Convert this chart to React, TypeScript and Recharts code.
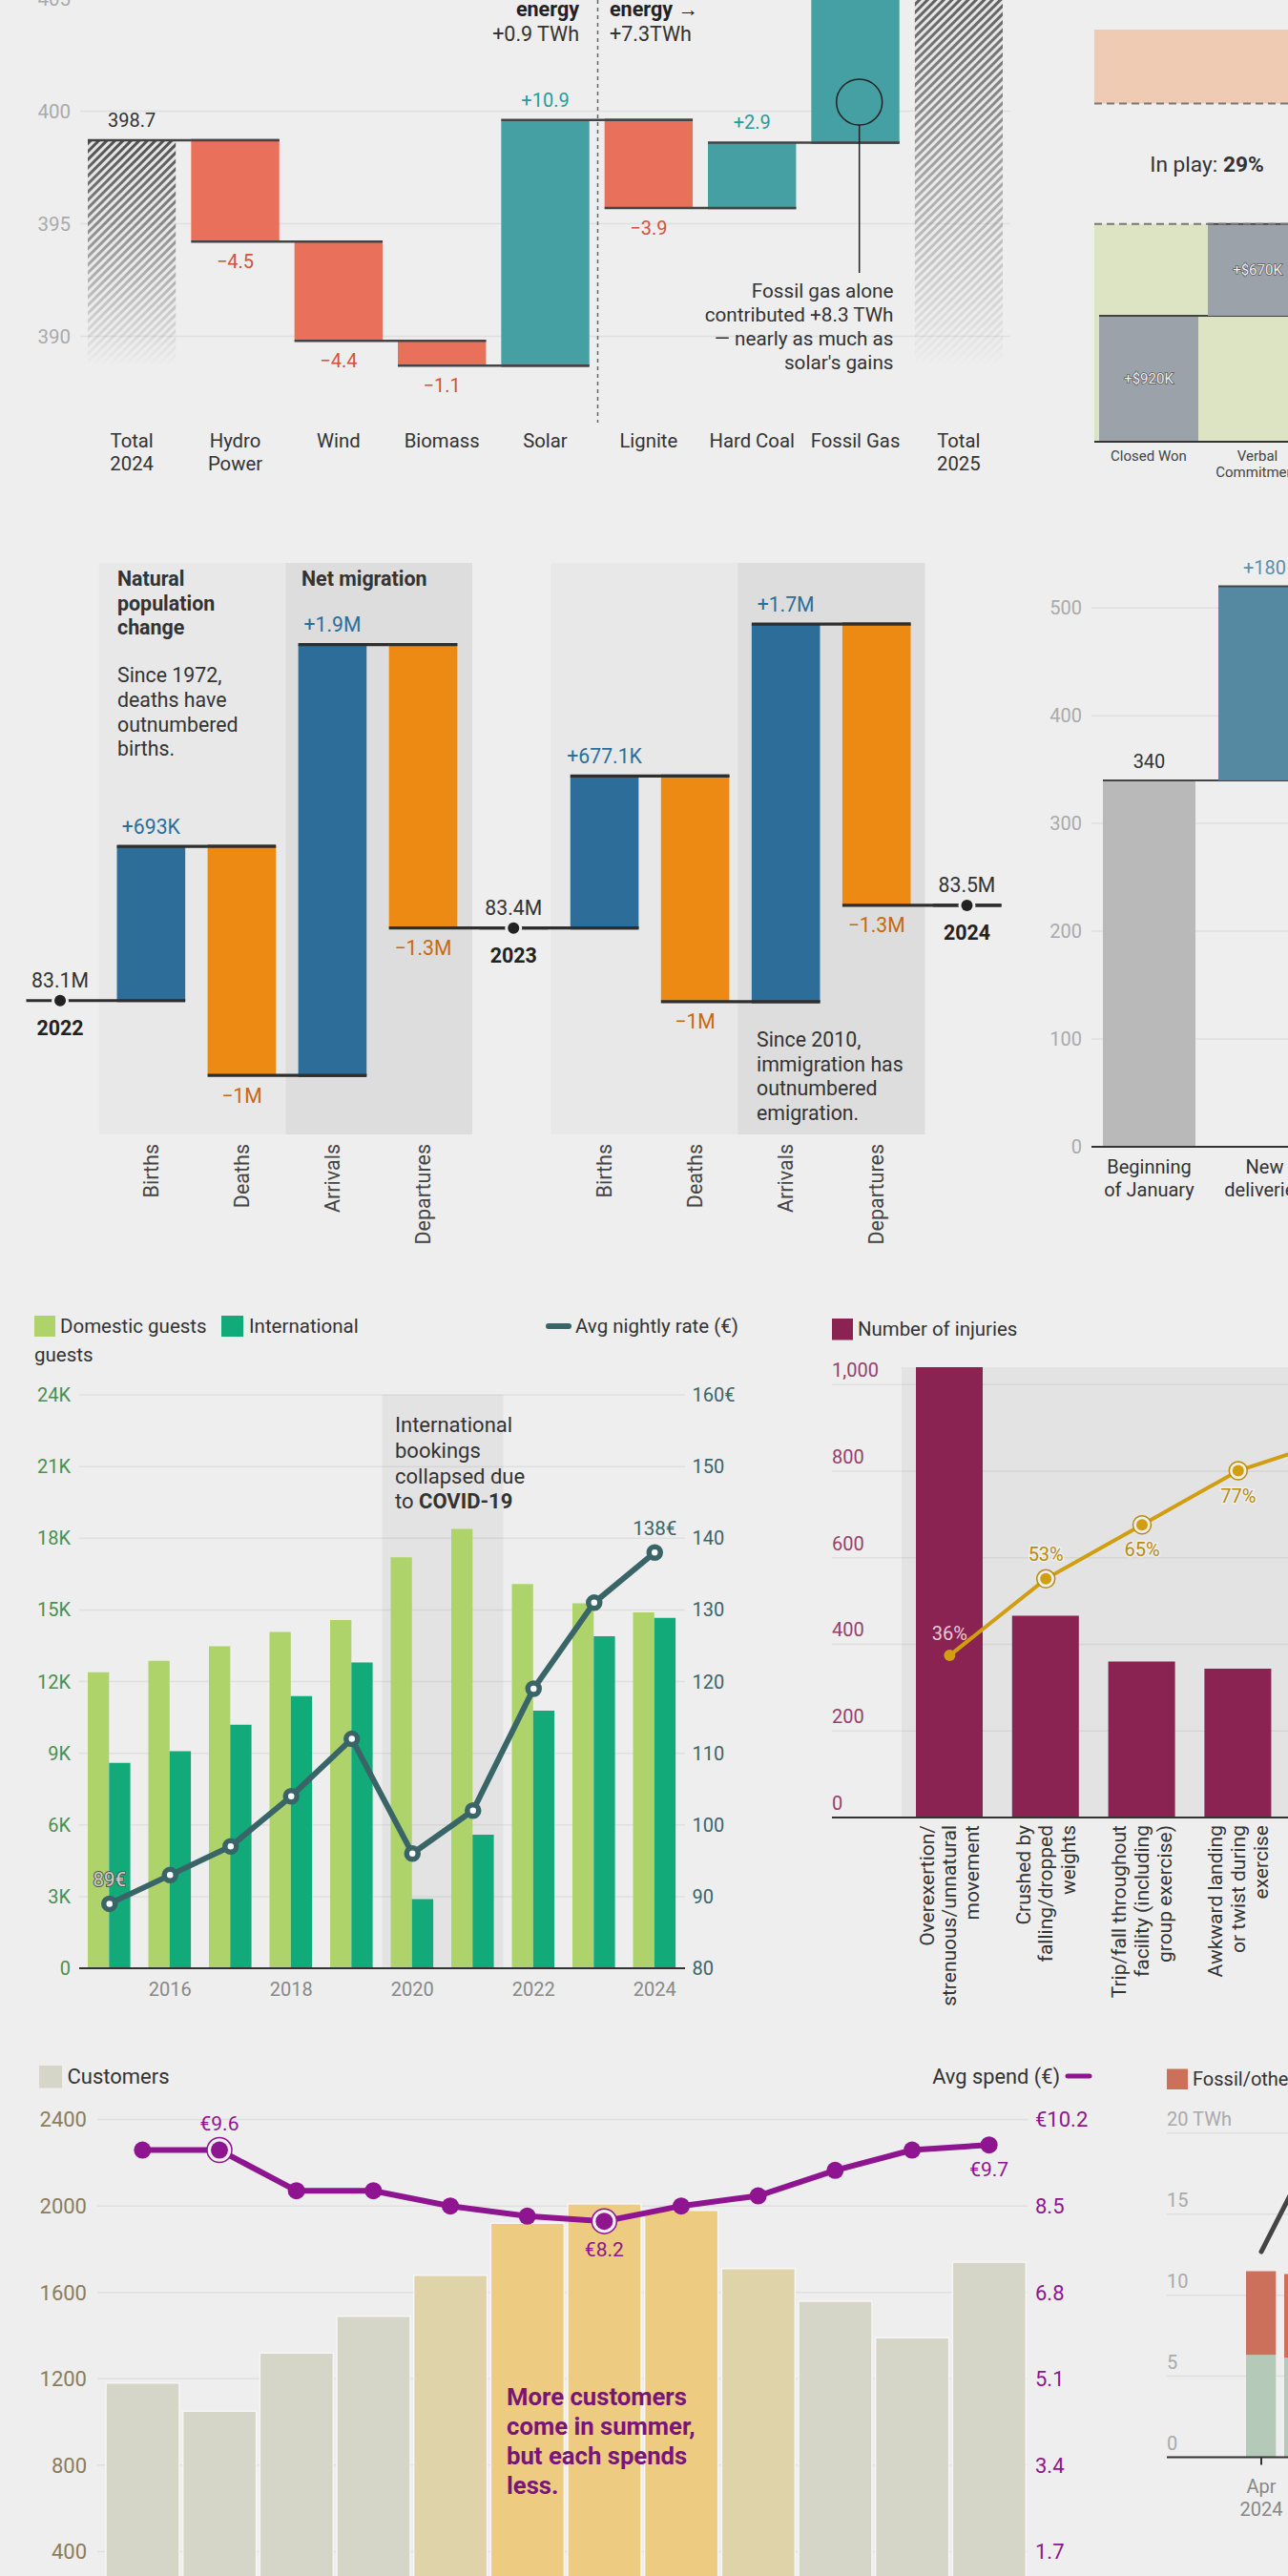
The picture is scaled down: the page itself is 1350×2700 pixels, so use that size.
import React from 'react';
import { ComposedChart, Bar, Line, XAxis, YAxis, CartesianGrid, ReferenceArea, ReferenceLine, Cell } from 'recharts';

const FONT = 'Roboto, sans-serif';
const BG = '#eeeeee';
const GRID = '#dfdfdf';
const AXIS = '#333333';

/* ---------- data: energy waterfall ---------- */
const energyCats = ['Total\n2024', 'Hydro\nPower', 'Wind', 'Biomass', 'Solar', 'Lignite', 'Hard Coal', 'Fossil Gas', 'Total\n2025'];
const energyLevels = [398.7, 394.2, 389.8, 388.7, 399.6, 395.7, 398.6, 406.9, 406.9];
const energyKinds = ['total', 'down', 'down', 'down', 'up', 'down', 'up', 'up', 'total'];
const energyLabels = ['398.7', '−4.5', '−4.4', '−1.1', '+10.9', '−3.9', '+2.9', '', ''];
const energyFloor = 388.7;
const energyTicks = [390, 395, 400, 405, 410];

/* ---------- data: sales pipeline ---------- */
const salesCats = ['Closed Won', 'Verbal\nCommitment'];
const salesLevels = [920, 1590];
const salesKinds = ['up', 'up'];
const salesLabels = ['+$920K', '+$670K'];
const salesWon = 1590;
const salesInPlayTop = 2470;
const salesTotal = 3010;

/* ---------- data: population ---------- */
const popCats = ['2022', 'Births', 'Deaths', 'Arrivals', 'Departures', '2023', 'Births', 'Deaths', 'Arrivals', 'Departures', '2024'];
const popLevels = [83.1, 83.78, 82.77, 84.67, 83.42, 83.42, 84.09, 83.095, 84.76, 83.52, 83.52];
const popKinds = ['point', 'up', 'down', 'up', 'down', 'point', 'up', 'down', 'up', 'down', 'point'];
const popLabels = ['83.1M', '+693K', '−1M', '+1.9M', '−1.3M', '83.4M', '+677.1K', '−1M', '+1.7M', '−1.3M', '83.5M'];
const popSpans = [1, 1, 1, 1, 1, 1, 1, 1, 1, 1, 0];

/* ---------- data: fleet ---------- */
const fleetCats = ['Beginning\nof January', 'New\ndeliveries'];
const fleetLevels = [340, 520];
const fleetKinds = ['total', 'up'];
const fleetLabels = ['340', '+180'];
const fleetTicks = [0, 100, 200, 300, 400, 500];

/* ---------- data: hotel ---------- */
const hotelYears = ['2015', '2016', '2017', '2018', '2019', '2020', '2021', '2022', '2023', '2024'];
const hotelYearTicks = ['2016', '2018', '2020', '2022', '2024'];
const hotelDomestic = [12.39, 12.87, 13.48, 14.08, 14.58, 17.2, 18.39, 16.08, 15.27, 14.9];
const hotelInternational = [8.6, 9.08, 10.19, 11.39, 12.8, 2.9, 5.59, 10.78, 13.9, 14.67];
const hotelRate = [89, 93, 97, 104, 112, 96, 102, 119, 131, 138];
const hotelRateLabels = ['89€', '', '', '', '', '', '', '', '', '138€'];
const hotelLeftTicks = [0, 3, 6, 9, 12, 15, 18, 21, 24];
const hotelRightTicks = [80, 90, 100, 110, 120, 130, 140, 150, 160];

/* ---------- data: injuries ---------- */
const injuryCats = [
  'Overexertion/\nstrenuous/unnatural\nmovement',
  'Crushed by\nfalling/dropped\nweights',
  'Trip/fall throughout\nfacility (including\ngroup exercise)',
  'Awkward landing\nor twist during\nexercise',
  'Other',
];
const injuryCounts = [1100, 466, 360, 344, 250];
const injuryCumulative = [36, 53, 65, 77, 84];
const injuryLabels = ['36%', '53%', '65%', '77%', '84%'];
const injuryLabelAbove = [true, true, false, false, false];
const injuryTicks = [0, 200, 400, 600, 800, 1000];

/* ---------- data: customers ---------- */
const monthKeys = ['Jan', 'Feb', 'Mar', 'Apr', 'May', 'Jun', 'Jul', 'Aug', 'Sep', 'Oct', 'Nov', 'Dec'];
const customerCounts = [1180, 1050, 1320, 1490, 1679, 1920, 2010, 1980, 1710, 1559, 1390, 1740];
const customerSeason = ['off', 'off', 'off', 'off', 'shoulder', 'peak', 'peak', 'peak', 'shoulder', 'off', 'off', 'off'];
const spendValues = [9.6, 9.6, 8.8, 8.8, 8.5, 8.3, 8.2, 8.5, 8.7, 9.2, 9.6, 9.7];
const spendLabels = ['', '€9.6', '', '', '', '', '€8.2', '', '', '', '', '€9.7'];
const spendRinged = [false, true, false, false, false, false, true, false, false, false, false, false];
const spendLabelAbove = [false, true, false, false, false, false, false, false, false, false, false, false];
const customerTicks = [0, 400, 800, 1200, 1600, 2000, 2400];
const spendTicks = [0, 1.7, 3.4, 5.1, 6.8, 8.5, 10.2];

/* ---------- data: electricity ---------- */
const powerMonths = ['Apr\n2024', 'May', 'Jun'];
const powerClean = [6.31, 6.14, 6.3];
const powerFossil = [5.17, 5.17, 5.0];
const powerDemand = [12.68, 17.3, 19];
const powerTicks = [0, 5, 10, 15, 20];

const buildSteps = (cats: string[], levels: number[], kinds: string[], labels: string[], floor = 0, spans?: number[]) =>
  cats.map((cat, i) => {
    const prev = i ? levels[i - 1] : floor;
    const lv = levels[i];
    const k = kinds[i];
    const range = k === 'total' ? [floor, lv] : k === 'point' ? [lv, lv] : [Math.min(prev, lv), Math.max(prev, lv)];
    return { key: `${cat}-${i}`, cat, range, kind: k, label: labels[i], point: k === 'point' ? lv : null, span: spans ? spans[i] : 1 };
  });

const energyData = buildSteps(energyCats, energyLevels, energyKinds, energyLabels, energyFloor);
const salesData = buildSteps(salesCats, salesLevels, salesKinds, salesLabels);
const popData = buildSteps(popCats, popLevels, popKinds, popLabels, 83.1, popSpans);
const fleetData = buildSteps(fleetCats, fleetLevels, fleetKinds, fleetLabels);
const hotelData = hotelYears.map((year, i) => ({ year, domestic: hotelDomestic[i], international: hotelInternational[i], rate: hotelRate[i], label: hotelRateLabels[i] }));
const injuryData = injuryCats.map((cat, i) => ({ cat, count: injuryCounts[i], cum: injuryCumulative[i], label: injuryLabels[i], above: injuryLabelAbove[i], i }));
const customerData = monthKeys.map((m, i) => ({ m, customers: customerCounts[i], spend: spendValues[i], label: spendLabels[i], ring: spendRinged[i], above: spendLabelAbove[i] }));
const powerData = powerMonths.map((m, i) => ({ m, clean: powerClean[i], fossil: powerFossil[i], demand: powerDemand[i] }));

/* ---------- shared renderers ---------- */
const makeStepShape = (o: any) => (p: any) => {
  const { x, y, width, height, payload } = p;
  const up = payload.kind !== 'down';
  const capY = up ? y : y + height;
  const baseY = up ? y + height : y;
  const fill = o.fills[payload.kind];
  const ink = o.inks[payload.kind];
  const capEnd = x + width + o.step * payload.span;
  return (
    <g>
      {payload.kind !== 'point' && (
        <rect x={x} y={y} width={width} height={height} fill={fill} mask={o.maskTotals && payload.kind === 'total' ? 'url(#hatchFade)' : undefined} />
      )}
      {(payload.kind === 'up' || payload.kind === 'down') && o.baseCap !== false && (
        <line x1={x} x2={x + width} y1={baseY} y2={baseY} stroke={o.capColor} strokeWidth={o.capWidth} />
      )}
      <line x1={x} x2={capEnd} y1={capY} y2={capY} stroke={o.capColor} strokeWidth={o.capWidth} />
      {payload.kind !== 'point' && payload.label && !o.inside && (
        <text x={x + width / 2} y={up ? capY - o.labelOffset : capY + o.labelOffset} textAnchor="middle" dominantBaseline="central" fontSize={o.fontSize} fill={ink}>
          {payload.label}
        </text>
      )}
      {payload.label && o.inside && (
        <text x={x + width / 2} y={y + height / 2} textAnchor="middle" dominantBaseline="central" fontSize={o.fontSize} fill="#eeeeee" stroke="#5a5a5a" strokeWidth={1.5} style={{ paintOrder: 'stroke' }}>
          {payload.label}
        </text>
      )}
    </g>
  );
};

const multiTick = (fs: number, lh: number, first: number, color: string, keyed = true) => (p: any) => {
  const { x, y, payload } = p;
  const v = String(payload.value);
  const lines = (keyed ? v.slice(0, v.lastIndexOf('-')) : v).split('\n');
  return (
    <g>
      {lines.map((l, i) => (
        <text key={i} x={x} y={y + first + i * lh} textAnchor="middle" dominantBaseline="central" fontSize={fs} fill={color}>
          {l}
        </text>
      ))}
    </g>
  );
};

const rotTick = (fs: number, lh: number, off: number, color: string, skip?: (s: string) => boolean, strip = false) => (p: any) => {
  const { x, y, payload } = p;
  const v = String(payload.value);
  const name = strip ? v.slice(0, v.lastIndexOf('-')) : v;
  if (skip && skip(name)) return <g />;
  const lines = name.split('\n');
  return (
    <g>
      {lines.map((l, i) => {
        const cx = x + (i - (lines.length - 1) / 2) * lh;
        return (
          <text key={i} x={cx} y={y + off} transform={`rotate(-90 ${cx} ${y + off})`} textAnchor="end" dominantBaseline="central" fontSize={fs} fill={color}>
            {l}
          </text>
        );
      })}
    </g>
  );
};

const insideTick = (fs: number, color: string, fmt: (v: number) => string) => (p: any) => (
  <text x={p.x} y={p.y - 15} textAnchor="start" dominantBaseline="central" fontSize={fs} fill={color}>
    {fmt(p.payload.value)}
  </text>
);

const panel = (dl: number, dr: number, fill: string) => (p: any) => (
  <rect x={p.x + dl} y={p.y} width={p.width + dr - dl} height={p.height} fill={fill} />
);

const popDot = (p: any) => {
  const { cx, cy, payload, index } = p;
  if (payload.point == null || cy == null) return <g key={index} />;
  return (
    <g key={index}>
      <circle cx={cx} cy={cy} r={9} fill={BG} />
      <circle cx={cx} cy={cy} r={6} fill="#222" />
      <text x={cx} y={cy - 21} textAnchor="middle" dominantBaseline="central" fontSize={21.2} fill="#333">{payload.label}</text>
      <text x={cx} y={cy + 29} textAnchor="middle" dominantBaseline="central" fontSize={21.4} fontWeight={700} fill="#222">{payload.cat}</text>
    </g>
  );
};

const hotelDot = (p: any) => {
  const { cx, cy, payload, index } = p;
  return (
    <g key={index}>
      <circle cx={cx} cy={cy} r={6} fill="#fff" stroke="#3a6568" strokeWidth={5.5} />
      {payload.label && (
        <text x={cx} y={cy - 25} textAnchor="middle" dominantBaseline="central" fontSize={20.5}
          fill={payload.year === '2015' ? '#cfcfc4' : '#3a6568'} stroke={payload.year === '2015' ? '#555' : 'none'} strokeWidth={payload.year === '2015' ? 2 : 0} style={{ paintOrder: 'stroke' }}>
          {payload.label}
        </text>
      )}
    </g>
  );
};

const injuryDot = (p: any) => {
  const { cx, cy, payload, index } = p;
  const first = payload.i === 0;
  return (
    <g key={index}>
      {!first && <circle cx={cx} cy={cy} r={9.5} fill={BG} stroke="#b88a10" strokeWidth={1.5} />}
      <circle cx={cx} cy={cy} r={6} fill="#d19e10" />
      <text x={cx} y={payload.above ? cy - (first ? 23 : 26) : cy + 26} textAnchor="middle" dominantBaseline="central" fontSize={20}
        fill={first ? '#ecc9d6' : '#b88a10'} stroke={first ? 'none' : BG} strokeWidth={first ? 0 : 3} style={{ paintOrder: 'stroke' }}>
        {payload.label}
      </text>
    </g>
  );
};

const spendDot = (p: any) => {
  const { cx, cy, payload, index } = p;
  return (
    <g key={index}>
      {payload.ring && <circle cx={cx} cy={cy} r={13} fill={BG} stroke="#8f1590" strokeWidth={1.5} />}
      <circle cx={cx} cy={cy} r={9} fill="#8f1590" />
      {payload.label && (
        <text x={cx} y={payload.above ? cy - 28 : cy + (payload.ring ? 30 : 26)} textAnchor="middle" dominantBaseline="central" fontSize={21} fill="#8f1590">
          {payload.label}
        </text>
      )}
    </g>
  );
};

const powerTick = (p: any) => {
  const { x, y, payload } = p;
  const lines = String(payload.value).split('\n');
  if (lines.length < 2) return <g />;
  return (
    <g>
      <line x1={x} x2={x} y1={y} y2={y + 8} stroke={AXIS} strokeWidth={2} />
      {lines.map((l, i) => (
        <text key={i} x={x} y={y + 30 + i * 24.5} textAnchor="middle" dominantBaseline="central" fontSize={20} fill="#888">{l}</text>
      ))}
    </g>
  );
};

const Box = ({ left, top, children }: any) => <div style={{ position: 'absolute', left, top }}>{children}</div>;

const T = ({ x, y, a = 'start', s = 20, w = 400, f = '#333', children }: any) => (
  <text x={x} y={y} textAnchor={a} dominantBaseline="central" fontSize={s} fontWeight={w} fill={f}>{children}</text>
);

const noAxisLine = { tickLine: false, axisLine: false, tickSize: 0 };
const baseAxis = { stroke: AXIS, strokeWidth: 2 };

export default function App() {
  return (
    <div style={{ position: 'absolute', left: 0, top: 0, width: 1350, height: 2700, overflow: 'hidden', background: BG, fontFamily: FONT }}>
      {/* Energy waterfall */}
      <Box left={0} top={-167}>
        <ComposedChart width={1059} height={674} data={energyData} margin={{ top: 0, right: 0, bottom: 0, left: 0 }}>
          <CartesianGrid vertical={false} syncWithTicks stroke={GRID} strokeWidth={1.5} />
          <XAxis dataKey="key" height={60} interval={0} tickMargin={0} tickSize={0} tickLine={false} axisLine={false} tick={multiTick(20.3, 24, 15, '#333')} />
          <YAxis width={84} domain={[386, 412]} ticks={energyTicks} interval={0} tickMargin={10} {...noAxisLine} tick={{ fontSize: 20.5, fill: '#aaa' }} />
          <Bar dataKey="range" barSize={92.4} isAnimationActive={false}
            shape={makeStepShape({ step: 108.2, maskTotals: true, capWidth: 2.5, capColor: '#444', labelOffset: 21, fontSize: 20,
              fills: { total: 'url(#hatch)', up: '#45a0a3', down: '#e9705a' },
              inks: { total: '#333', up: '#2a9a9a', down: '#d0533c' } })} />
        </ComposedChart>
      </Box>

      {/* Sales pipeline */}
      <Box left={1147} top={20}>
        <ComposedChart width={228} height={503} data={salesData} margin={{ top: 11, right: 0, bottom: 0, left: 0 }}>
          <XAxis dataKey="key" height={60} interval={0} tickMargin={0} tickSize={0} tickLine={false} axisLine={baseAxis} tick={multiTick(15, 17, 15, '#444')} />
          <YAxis hide domain={[0, salesTotal]} />
          <ReferenceArea y1={0} y2={salesWon} fill="#dde4c3" fillOpacity={1} />
          <ReferenceArea y1={salesInPlayTop} y2={salesTotal} fill="#eecbb2" fillOpacity={1} />
          <ReferenceLine y={salesWon} stroke="#777" strokeWidth={2} strokeDasharray="8 5" />
          <ReferenceLine y={salesInPlayTop} stroke="#777" strokeWidth={2} strokeDasharray="8 5" />
          <Bar dataKey="range" barSize={104} isAnimationActive={false}
            shape={makeStepShape({ step: 114, capWidth: 2, capColor: '#444', labelOffset: 0, fontSize: 15, inside: true, baseCap: false,
              fills: { up: '#9ca2a9' }, inks: { up: '#fff' } })} />
        </ComposedChart>
      </Box>

      {/* Population */}
      <Box left={0} top={570}>
        <ComposedChart width={1061} height={749} data={popData} margin={{ top: 20, right: 0, bottom: 0, left: 15.5 }}>
          <XAxis dataKey="key" height={130} interval={0} tickMargin={0} tickSize={0} tickLine={false} axisLine={false}
            tick={rotTick(21.5, 0, 10, '#444', (s) => /^\d+$/.test(s), true)} />
          <YAxis hide domain={[82.51, 85.03]} />
          <ReferenceArea x1={popData[1].key} x2={popData[2].key} shape={panel(-6.8, -1.2, '#e8e8e8')} />
          <ReferenceArea x1={popData[3].key} x2={popData[4].key} shape={panel(-1.2, 4.2, '#dddddd')} />
          <ReferenceArea x1={popData[6].key} x2={popData[7].key} shape={panel(-8.5, -2.5, '#e8e8e8')} />
          <ReferenceArea x1={popData[8].key} x2={popData[9].key} shape={panel(-2.5, 3.5, '#dddddd')} />
          <Bar dataKey="range" barSize={71.6} isAnimationActive={false}
            shape={makeStepShape({ step: 95, capWidth: 3.2, capColor: '#2e2e2e', labelOffset: 21, fontSize: 21.2,
              fills: { up: '#2c6e99', down: '#ec8a13' }, inks: { up: '#2c6e99', down: '#c8690f' } })} />
          <Line dataKey="point" stroke="none" isAnimationActive={false} dot={popDot} activeDot={false} legendType="none" />
        </ComposedChart>
      </Box>

      {/* Fleet */}
      <Box left={1060} top={572}>
        <ComposedChart width={326} height={710} data={fleetData} margin={{ top: 20, right: 0, bottom: 0, left: 0 }}>
          <CartesianGrid vertical={false} syncWithTicks stroke={GRID} strokeWidth={1.5} />
          <XAxis dataKey="key" height={80} interval={0} tickMargin={0} tickSize={0} tickLine={false} axisLine={baseAxis} tick={multiTick(20, 24, 21, '#333')} />
          <YAxis width={84} domain={[0, 540]} ticks={fleetTicks} interval={0} tickMargin={10} {...noAxisLine} tick={{ fontSize: 20, fill: '#aaa' }} />
          <Bar dataKey="range" barSize={97} isAnimationActive={false}
            shape={makeStepShape({ step: 121, capWidth: 2, capColor: '#444', labelOffset: 20, fontSize: 20, baseCap: false,
              fills: { total: '#b9b9b9', up: '#5589a2' }, inks: { total: '#333', up: '#5a8fab' } })} />
        </ComposedChart>
      </Box>

      {/* Hotel */}
      <Box left={0} top={1441.5}>
        <ComposedChart width={790} height={671} data={hotelData} barGap={0} margin={{ top: 20, right: 0, bottom: 0, left: 0 }}>
          <CartesianGrid vertical={false} syncWithTicks yAxisId="left" stroke={GRID} strokeWidth={1.5} />
          <XAxis dataKey="year" height={50} interval={0} tickMargin={0} tickSize={0} tickLine={false} axisLine={baseAxis}
            tick={(p: any) => hotelYearTicks.includes(String(p.payload.value))
              ? <text x={p.x} y={p.y + 21.5} textAnchor="middle" dominantBaseline="central" fontSize={20} fill="#888">{p.payload.value}</text>
              : <g />} />
          <YAxis yAxisId="left" width={83} domain={[0, 24]} ticks={hotelLeftTicks} interval={0} tickMargin={9} {...noAxisLine}
            tickFormatter={(v: number) => (v ? `${v}K` : '0')} tick={{ fontSize: 20, fill: '#4a9050' }} />
          <YAxis yAxisId="right" orientation="right" width={72} domain={[80, 160]} ticks={hotelRightTicks} interval={0} tickMargin={7.5} {...noAxisLine}
            tickFormatter={(v: number) => (v === 160 ? '160€' : String(v))} tick={{ fontSize: 20, fill: '#3a6568' }} />
          <ReferenceArea yAxisId="left" x1="2020" x2="2021" fill="#000" fillOpacity={0.045} />
          <Bar yAxisId="left" dataKey="domestic" barSize={22.3} fill="#aed36b" isAnimationActive={false} />
          <Bar yAxisId="left" dataKey="international" barSize={22.3} fill="#13aa7a" isAnimationActive={false} />
          <Line yAxisId="right" dataKey="rate" stroke="#3a6568" strokeWidth={6} isAnimationActive={false} dot={hotelDot} activeDot={false} />
        </ComposedChart>
      </Box>

      {/* Injuries */}
      <Box left={871} top={1420}>
        <ComposedChart width={578} height={745} data={injuryData} margin={{ top: 13, right: 0, bottom: 0, left: 0 }}>
          <CartesianGrid vertical={false} syncWithTicks yAxisId="n" stroke={GRID} strokeWidth={1.5} />
          <XAxis dataKey="cat" height={260} padding={{ left: 73 }} interval={0} tickMargin={0} tickSize={0} tickLine={false} axisLine={baseAxis} tick={rotTick(21, 23.7, 8, '#333')} />
          <YAxis yAxisId="n" width={1} domain={[0, 1040]} allowDataOverflow ticks={injuryTicks} interval={0} tickMargin={0} {...noAxisLine}
            tick={insideTick(20, '#96406a', (v) => v.toLocaleString('en-US'))} />
          <YAxis yAxisId="pct" hide domain={[0, 100]} />
          <ReferenceArea yAxisId="n" x1={injuryCats[0]} x2={injuryCats[4]} fill="#000" fillOpacity={0.045} />
          <Bar yAxisId="n" dataKey="count" barSize={70} fill="#8a2252" isAnimationActive={false} />
          <Line yAxisId="pct" dataKey="cum" stroke="#d19e10" strokeWidth={4} isAnimationActive={false} dot={injuryDot} activeDot={false} />
        </ComposedChart>
      </Box>

      {/* Customers */}
      <Box left={0} top={2200}>
        <ComposedChart width={1145} height={585} data={customerData} margin={{ top: 21.6, right: 0, bottom: 0, left: 0 }}>
          <CartesianGrid vertical={false} syncWithTicks yAxisId="c" stroke={GRID} strokeWidth={1.5} />
          <XAxis dataKey="m" height={20} padding={{ left: 7 }} interval={0} tick={false} tickLine={false} axisLine={false} />
          <YAxis yAxisId="c" width={102} domain={[0, 2400]} ticks={customerTicks} interval={0} tickMargin={11} {...noAxisLine} tick={{ fontSize: 22, fill: '#8b7d5b' }} />
          <YAxis yAxisId="s" orientation="right" width={68} domain={[0, 10.2]} ticks={spendTicks} interval={0} tickMargin={8} {...noAxisLine}
            tickFormatter={(v: number) => (v === 10.2 ? '€10.2' : String(v))} tick={{ fontSize: 22, fill: '#8f1590' }} />
          <Bar yAxisId="c" dataKey="customers" barSize={77} isAnimationActive={false} stroke="#f6f6f6" strokeWidth={1.5}>
            {customerSeason.map((s, i) => (
              <Cell key={i} fill={s === 'peak' ? '#edcb80' : s === 'shoulder' ? '#dfd3aa' : '#d5d5c8'} />
            ))}
          </Bar>
          <Line yAxisId="s" dataKey="spend" stroke="#8f1590" strokeWidth={6} isAnimationActive={false} dot={spendDot} activeDot={false} />
        </ComposedChart>
      </Box>

      {/* Electricity */}
      <Box left={1222} top={2200}>
        <ComposedChart width={200} height={500} data={powerData} margin={{ top: 18.8, right: 0, bottom: 0, left: 0 }}>
          <CartesianGrid vertical={false} syncWithTicks stroke={GRID} strokeWidth={1.5} />
          <XAxis dataKey="m" height={124.5} padding={{ left: 79 }} interval={0} tickMargin={0} tickSize={0} tickLine={false} axisLine={baseAxis} tick={powerTick} />
          <YAxis width={1} domain={[0, 21]} ticks={powerTicks} interval={0} tickMargin={0} {...noAxisLine}
            tick={insideTick(20, '#aaa', (v) => (v === 20 ? '20 TWh' : String(v)))} />
          <Bar dataKey="clean" stackId="a" barSize={31.3} fill="#b5c9b8" isAnimationActive={false} />
          <Bar dataKey="fossil" stackId="a" barSize={31.3} fill="#cc6f5b" isAnimationActive={false} />
          <Line dataKey="demand" stroke="#444" strokeWidth={5} strokeLinecap="round" dot={false} activeDot={false} isAnimationActive={false} />
        </ComposedChart>
      </Box>

      {/* Annotations and legends */}
      <svg width={1350} height={2700} style={{ position: 'absolute', left: 0, top: 0, pointerEvents: 'none', fontFamily: FONT }}>
        <defs>
          <pattern id="hatch" width={6} height={6} patternUnits="userSpaceOnUse" patternTransform="rotate(45)">
            <rect width={6} height={6} fill="#e4e4e4" />
            <rect width={3} height={6} fill="#505050" />
          </pattern>
          <linearGradient id="hatchGrad" x1={0} y1={0} x2={0} y2={1}>
            <stop offset="0" stopColor="#fff" stopOpacity={1} />
            <stop offset="1" stopColor="#fff" stopOpacity={0} />
          </linearGradient>
          <mask id="hatchFade" maskContentUnits="objectBoundingBox">
            <rect x={0} y={0} width={1} height={1} fill="url(#hatchGrad)" />
          </mask>
        </defs>

        {/* energy */}
        <line x1={626.5} x2={626.5} y1={0} y2={443} stroke="#666" strokeWidth={1.5} strokeDasharray="4 4" />
        <T x={607} y={9} a="end" w={700} s={21.5} f="#222">energy</T>
        <T x={607} y={35} a="end" s={21.5}>+0.9 TWh</T>
        <T x={639} y={9} w={700} s={21.5} f="#222">energy →</T>
        <T x={639} y={35} s={21.5}>+7.3TWh</T>
        <circle cx={900.7} cy={107} r={24} fill="none" stroke="#222" strokeWidth={1.5} />
        <line x1={900.7} x2={900.7} y1={131} y2={286} stroke="#222" strokeWidth={1.5} />
        <T x={936.5} y={305} a="end" s={20.7}>Fossil gas alone</T>
        <T x={936.5} y={330} a="end" s={20.7}>contributed +8.3 TWh</T>
        <T x={936.5} y={355} a="end" s={20.7}>— nearly as much as</T>
        <T x={936.5} y={380} a="end" s={20.7}>solar's gains</T>

        {/* sales */}
        <text x={1265} y={172} textAnchor="middle" dominantBaseline="central" fontSize={22.7} fill="#333">
          In play: <tspan fontWeight={700}>29%</tspan>
        </text>

        {/* population */}
        <T x={123} y={606} w={700} s={21.4}>Natural</T>
        <T x={123} y={632} w={700} s={21.4}>population</T>
        <T x={123} y={657} w={700} s={21.4}>change</T>
        <T x={316} y={606} w={700} s={21.4}>Net migration</T>
        <T x={123} y={707} s={21.3}>Since 1972,</T>
        <T x={123} y={733} s={21.3}>deaths have</T>
        <T x={123} y={759} s={21.3}>outnumbered</T>
        <T x={123} y={784} s={21.3}>births.</T>
        <T x={793} y={1089} s={21.3}>Since 2010,</T>
        <T x={793} y={1115} s={21.3}>immigration has</T>
        <T x={793} y={1140} s={21.3}>outnumbered</T>
        <T x={793} y={1166} s={21.3}>emigration.</T>

        {/* hotel */}
        <rect x={36} y={1379} width={22} height={22} fill="#aed36b" />
        <T x={63} y={1390} s={20.5}>Domestic guests</T>
        <rect x={232} y={1379} width={23} height={22} fill="#13aa7a" />
        <T x={261} y={1390} s={20.5}>International</T>
        <T x={36} y={1420} s={20.5}>guests</T>
        <line x1={575} x2={596} y1={1390} y2={1390} stroke="#3a6568" strokeWidth={6} strokeLinecap="round" />
        <T x={603} y={1390} s={20.5}>Avg nightly rate (€)</T>
        <T x={414} y={1493.5} s={22}>International</T>
        <T x={414} y={1520.5} s={22}>bookings</T>
        <T x={414} y={1547.5} s={22}>collapsed due</T>
        <text x={414} y={1573} dominantBaseline="central" fontSize={22} fill="#333">to <tspan fontWeight={700}>COVID-19</tspan></text>

        {/* injuries */}
        <rect x={872} y={1382} width={22} height={22.5} fill="#8a2252" />
        <T x={899} y={1393} s={20.4}>Number of injuries</T>

        {/* customers */}
        <rect x={41} y={2165} width={24} height={23.5} fill="#d5d5c8" />
        <T x={70.5} y={2176} s={22}>Customers</T>
        <T x={1111} y={2176} a="end" s={21.8}>Avg spend (€)</T>
        <line x1={1119} x2={1142} y1={2176} y2={2176} stroke="#8f1590" strokeWidth={5} strokeLinecap="round" />
        <T x={531} y={2511.5} s={25.7} w={700} f="#7a1578">More customers</T>
        <T x={531} y={2543} s={25.7} w={700} f="#7a1578">come in summer,</T>
        <T x={531} y={2574} s={25.7} w={700} f="#7a1578">but each spends</T>
        <T x={531} y={2605} s={25.7} w={700} f="#7a1578">less.</T>

        {/* electricity */}
        <rect x={1223} y={2168.5} width={22} height={21.5} fill="#cc6f5b" />
        <T x={1250} y={2179}>Fossil/other sources</T>
      </svg>
    </div>
  );
}
